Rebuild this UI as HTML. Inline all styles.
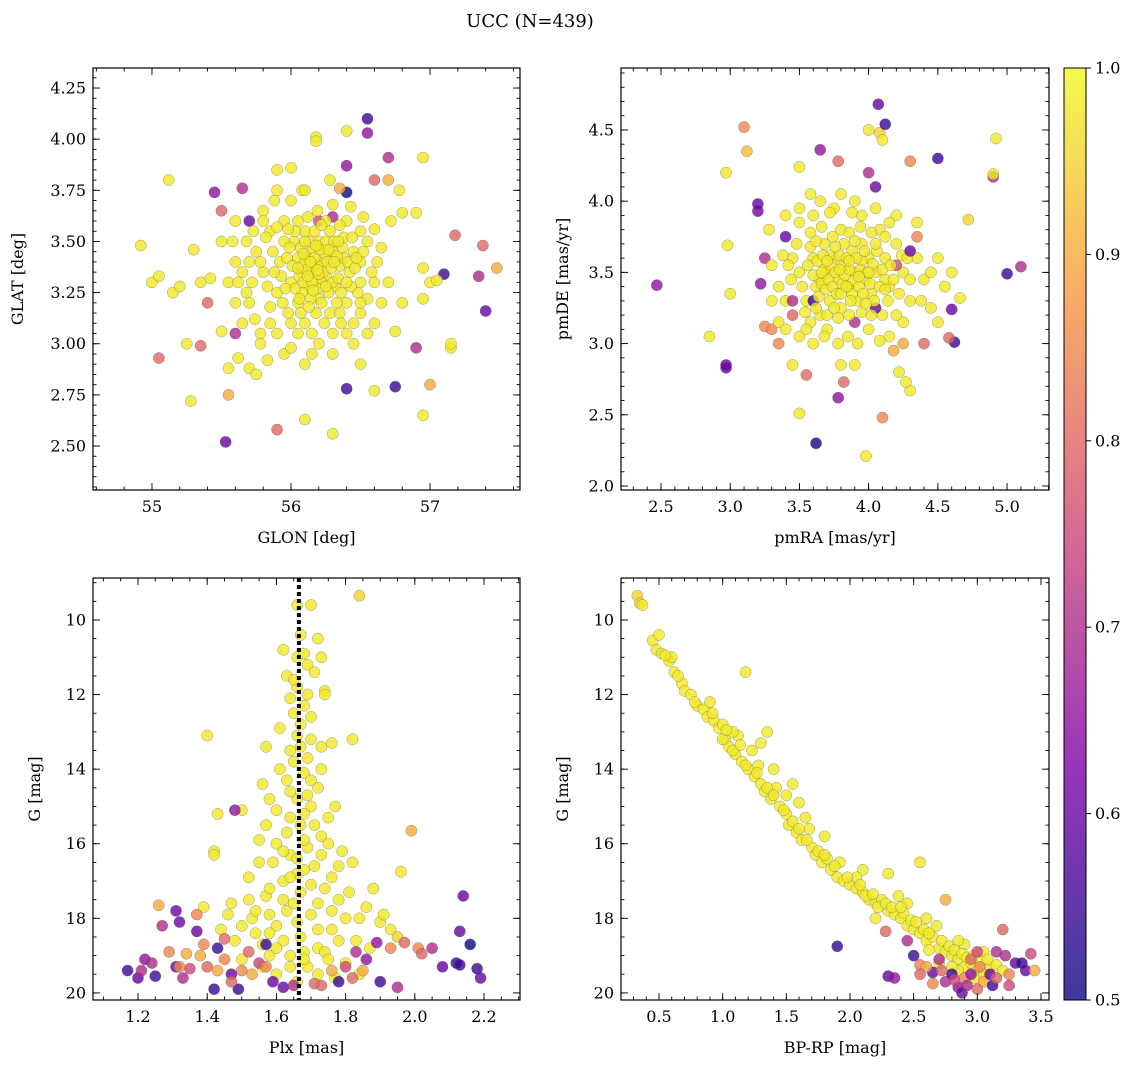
<!DOCTYPE html>
<html><head><meta charset="utf-8"><style>
body{margin:0;background:#fff;}
svg{display:block;font-family:"DejaVu Serif","Liberation Serif",serif;}
</style></head><body>
<svg id="chart" width="1136" height="1067" viewBox="0 0 1136 1067" xmlns="http://www.w3.org/2000/svg">
<defs><linearGradient id="plasma" x1="0" y1="1" x2="0" y2="0">
<stop offset="0" stop-color="#0d0887"/><stop offset="0.25" stop-color="#7e03a8"/><stop offset="0.5" stop-color="#cc4778"/><stop offset="0.75" stop-color="#f89540"/><stop offset="1" stop-color="#f0f921"/></linearGradient></defs>
<text x="530" y="27" font-size="18" text-anchor="middle">UCC (N=439)</text>
</svg>
<script>
// [x, y, probability]
const starsPos=[[56.55,4.10,0.55],[56.55,4.03,0.65],[55.45,3.74,0.65],[56.4,3.87,0.65],[56.7,3.91,0.7],[56.4,3.74,0.5],[55.53,2.52,0.6],[56.4,2.78,0.55],[56.75,2.79,0.55],[57.1,3.34,0.55],[57.4,3.16,0.6],[56.9,2.98,0.7],[55.65,3.76,0.7],[55.6,3.05,0.7],[55.7,3.6,0.6],[55.5,3.65,0.8],[55.9,2.58,0.8],[57.0,2.80,0.9],[55.55,2.75,0.9],[55.05,2.93,0.8],[55.35,2.99,0.8],[57.18,3.53,0.8],[57.38,3.48,0.8],[57.48,3.37,0.9],[57.35,3.33,0.7],[56.6,3.8,0.8],[56.7,3.8,0.9],[55.4,3.2,0.8],[56.35,3.76,0.9],[56.3,3.62,0.7],[56.2,3.6,0.75],
[54.92,3.48,0.98],[55.0,3.3,0.98],[55.05,3.33,0.98],[55.12,3.8,0.98],[55.15,3.25,0.98],[55.2,3.28,0.98],[55.25,3.0,0.98],[55.28,2.72,0.98],[55.3,3.46,0.98],[55.35,3.3,0.98],[55.42,3.32,0.98],[55.5,3.06,0.98],[55.55,2.88,0.98],[55.62,2.93,0.98],[55.7,2.88,0.98],[55.75,2.85,0.98],[55.78,3.05,0.98],[55.68,3.5,0.98],[55.8,3.65,0.98],[55.9,3.85,0.98],[56.0,3.86,0.98],[56.08,3.75,0.98],[56.18,4.01,0.98],[56.18,3.99,0.98],[56.4,4.04,0.98],[56.5,3.55,0.98],[56.52,3.62,0.98],[56.6,3.56,0.98],[56.65,3.47,0.98],[56.72,3.6,0.98],[56.8,3.64,0.98],[56.78,3.75,0.98],[56.9,3.64,0.98],[56.95,3.91,0.98],[56.95,3.37,0.98],[57.0,3.3,0.98],[56.95,3.22,0.98],[57.05,3.31,0.98],[57.15,2.98,0.98],[57.15,3.0,0.98],[56.95,2.65,0.98],[56.75,3.06,0.98],[56.6,2.77,0.98],[56.5,2.9,0.98],[56.3,2.56,0.98],[56.1,2.63,0.98],[56.3,2.95,0.98],[56.1,2.9,0.98],[55.95,2.95,0.98],[55.85,3.1,0.98],[56.15,3.05,0.98],[56.4,3.05,0.98],[56.5,3.15,0.98],[56.45,3.0,0.98],[56.5,3.3,0.98],[56.6,3.3,0.98],
[55.75,3.45,0.98],[55.8,3.35,0.98],[55.85,3.55,0.98],[55.9,3.25,0.98],[55.92,3.4,0.98],[55.95,3.6,0.98],[55.98,3.15,0.98],[56.0,3.3,0.98],[56.02,3.5,0.98],[56.05,3.42,0.98],[56.05,3.2,0.98],[56.08,3.35,0.98],[56.1,3.55,0.98],[56.1,3.1,0.98],[56.12,3.28,0.98],[56.15,3.45,0.98],[56.15,3.38,0.98],[56.18,3.3,0.98],[56.2,3.5,0.98],[56.2,3.22,0.98],[56.22,3.4,0.98],[56.25,3.33,0.98],[56.25,3.6,0.98],[56.28,3.15,0.98],[56.3,3.45,0.98],[56.32,3.28,0.98],[56.35,3.38,0.98],[56.38,3.52,0.98],[56.4,3.2,0.98],[56.42,3.35,0.98],[56.45,3.45,0.98],[56.48,3.25,0.98],[56.5,3.4,0.98],[55.7,3.2,0.98],[55.65,3.35,0.98],[55.6,3.4,0.98],[55.65,3.1,0.98],[55.78,3.0,0.98],[55.88,3.7,0.98],[56.0,3.7,0.98],[56.1,3.75,0.98],[56.3,3.68,0.98],[56.55,3.22,0.98],[56.6,3.1,0.98],[56.3,3.05,0.98],[56.2,3.0,0.98],[55.85,3.18,0.98],[55.95,3.5,0.98],[56.05,3.6,0.98],[56.12,3.62,0.98],[56.18,3.15,0.98],[56.25,3.5,0.98],[56.35,3.15,0.98],[56.4,3.6,0.98],[56.45,3.1,0.98],[55.55,3.3,0.98],[55.6,3.2,0.98],[55.9,3.05,0.98],[56.0,2.98,0.98],[56.15,2.95,0.98],[56.28,3.55,0.98],[56.12,3.42,0.98],[56.08,3.25,0.98],[56.22,3.3,0.98],[56.16,3.35,0.98],[56.06,3.33,0.98],[56.2,3.38,0.98],[56.1,3.4,0.98],[56.24,3.44,0.98],[56.3,3.3,0.98],[55.82,3.52,0.98],[55.72,3.3,0.98],[56.38,3.42,0.98],[56.55,3.5,0.98],[56.62,3.4,0.98],[55.5,3.5,0.98],[55.6,3.6,0.98],[56.7,3.3,0.98],[56.8,3.2,0.98],
[55.78,3.4,0.98],[55.83,3.28,0.98],[55.87,3.45,0.98],[55.93,3.33,0.98],[55.97,3.42,0.98],[56.01,3.38,0.98],[56.03,3.27,0.98],[56.07,3.47,0.98],[56.09,3.3,0.98],[56.11,3.36,0.98],[56.13,3.5,0.98],[56.14,3.22,0.98],[56.17,3.42,0.98],[56.19,3.27,0.98],[56.21,3.46,0.98],[56.23,3.35,0.98],[56.26,3.4,0.98],[56.27,3.25,0.98],[56.29,3.37,0.98],[56.31,3.5,0.98],[56.33,3.43,0.98],[56.34,3.32,0.98],[56.36,3.25,0.98],[56.37,3.47,0.98],[56.41,3.4,0.98],[56.43,3.28,0.98],[56.46,3.37,0.98],[56.52,3.45,0.98],[56.58,3.35,0.98],[56.03,3.55,0.98],[56.17,3.55,0.98],[56.22,3.2,0.98],[56.33,3.2,0.98],[55.94,3.2,0.98],[55.88,3.35,0.98],[56.07,3.15,0.98],[56.24,3.1,0.98],[56.13,3.18,0.98],[55.99,3.47,0.98],[56.19,3.65,0.98],[56.35,3.58,0.98],[55.8,3.6,0.98],[55.73,3.55,0.98],[55.68,3.25,0.98],[55.74,3.12,0.98],[56.44,3.52,0.98],[56.5,3.2,0.98],[56.15,3.3,0.98],[56.12,3.33,0.98],[56.2,3.34,0.98],[56.25,3.28,0.98],[56.05,3.37,0.98],[55.96,3.27,0.98],[56.27,3.46,0.98],[56.09,3.44,0.98],[55.9,3.57,0.98],[56.4,3.3,0.98],[56.47,3.42,0.98],[56.0,3.1,0.98],[56.36,3.1,0.98],[55.83,2.92,0.98],[55.62,3.3,0.98],[56.65,3.2,0.98],[56.55,3.05,0.98],[55.58,3.5,0.98],[55.9,3.75,0.98],[56.28,3.8,0.98],[56.43,3.67,0.98],[56.05,3.05,0.98],[55.7,3.4,0.98],[56.18,3.48,0.98],[56.22,3.58,0.98],[56.34,3.5,0.98],[56.1,3.5,0.98],[56.06,3.22,0.98],[55.98,3.56,0.98],[56.31,3.4,0.98],[56.14,3.4,0.98],[56.19,3.36,0.98],[56.16,3.26,0.98]];
const starsPM=[[2.47,3.41,0.65],[2.85,3.05,0.98],[2.97,2.83,0.6],[2.97,2.85,0.6],[2.97,4.2,0.98],[2.98,3.69,0.98],[3.0,3.35,0.98],[3.1,4.52,0.85],[3.12,4.35,0.92],[3.2,3.93,0.62],[3.2,3.98,0.6],[3.22,3.42,0.65],[3.25,3.6,0.7],[3.4,3.9,0.98],[3.5,4.24,0.98],[3.5,2.51,0.98],[3.58,4.05,0.98],[3.62,2.3,0.5],[3.65,4.36,0.65],[3.78,4.28,0.8],[3.78,2.62,0.65],[3.82,2.73,0.8],[3.8,2.85,0.98],[3.9,2.85,0.98],[3.98,2.21,0.98],[4.0,4.5,0.98],[4.07,4.68,0.6],[4.08,4.48,0.95],[4.12,4.54,0.55],[4.0,4.2,0.7],[4.05,4.1,0.6],[4.1,4.43,0.98],[4.22,2.8,0.98],[4.3,2.67,0.98],[4.27,2.73,0.98],[4.18,2.95,0.9],[4.1,2.48,0.85],[4.3,4.28,0.85],[4.5,4.3,0.55],[4.62,3.01,0.55],[4.58,3.04,0.8],[4.6,3.24,0.6],[4.72,3.87,0.95],[4.66,3.32,0.98],[4.9,4.17,0.7],[4.9,4.19,0.98],[4.92,4.44,0.98],[5.0,3.49,0.55],[5.1,3.54,0.7],[3.25,3.12,0.85],[3.3,3.1,0.85],[3.45,2.85,0.98],[3.55,2.78,0.8],[3.4,3.75,0.6],[3.35,3.4,0.98],
[3.5,3.5,0.98],[3.55,3.3,0.98],[3.6,3.6,0.98],[3.62,3.4,0.98],[3.65,3.2,0.98],[3.68,3.7,0.98],[3.7,3.5,0.98],[3.72,3.3,0.98],[3.75,3.6,0.98],[3.78,3.45,0.98],[3.8,3.8,0.98],[3.8,3.25,0.98],[3.82,3.55,0.98],[3.85,3.4,0.98],[3.88,3.65,0.98],[3.9,3.5,0.98],[3.92,3.3,0.98],[3.95,3.7,0.98],[3.98,3.45,0.98],[4.0,3.6,0.98],[4.02,3.35,0.98],[4.05,3.5,0.98],[4.08,3.8,0.98],[4.1,3.2,0.98],[4.12,3.6,0.98],[4.15,3.4,0.98],[4.2,3.7,0.98],[4.25,3.5,0.98],[4.3,3.3,0.98],[4.35,3.6,0.98],[4.4,3.45,0.98],[4.45,3.25,0.98],[3.45,3.6,0.98],[3.4,3.3,0.98],[3.35,3.15,0.98],[3.5,3.05,0.98],[3.6,3.0,0.98],[3.7,3.1,0.98],[3.85,3.05,0.98],[4.0,3.1,0.98],[4.15,3.05,0.98],[3.6,3.9,0.98],[3.75,3.95,0.98],[3.9,4.0,0.98],[4.05,3.95,0.98],[4.2,3.9,0.98],[3.5,3.85,0.98],[3.3,3.55,0.98],[3.28,3.8,0.98],[4.35,3.85,0.98],[4.5,3.6,0.98],[4.55,3.4,0.98],[3.65,3.45,0.98],[3.72,3.62,0.98],[3.88,3.35,0.98],[3.95,3.58,0.98],[3.68,3.52,0.98],[3.82,3.7,0.98],[4.12,3.45,0.98],[3.58,3.15,0.98],[4.25,3.15,0.98],[4.4,3.0,0.8],[3.45,3.2,0.8],[4.35,3.75,0.85],[3.9,3.15,0.7],[4.05,3.25,0.6],[3.6,3.3,0.55],[4.2,3.55,0.75],
[3.52,3.4,0.98],[3.56,3.55,0.98],[3.58,3.68,0.98],[3.6,3.48,0.98],[3.63,3.58,0.98],[3.64,3.33,0.98],[3.66,3.42,0.98],[3.67,3.62,0.98],[3.69,3.38,0.98],[3.71,3.45,0.98],[3.73,3.55,0.98],[3.74,3.4,0.98],[3.76,3.5,0.98],[3.77,3.35,0.98],[3.79,3.62,0.98],[3.81,3.42,0.98],[3.83,3.48,0.98],[3.84,3.6,0.98],[3.86,3.52,0.98],[3.87,3.3,0.98],[3.89,3.44,0.98],[3.91,3.6,0.98],[3.93,3.4,0.98],[3.94,3.52,0.98],[3.96,3.35,0.98],[3.97,3.65,0.98],[3.99,3.5,0.98],[4.01,3.42,0.98],[4.03,3.56,0.98],[4.04,3.3,0.98],[4.06,3.65,0.98],[4.08,3.4,0.98],[4.1,3.52,0.98],[4.14,3.3,0.98],[4.16,3.55,0.98],[4.18,3.45,0.98],[4.22,3.35,0.98],[4.24,3.62,0.98],[3.54,3.22,0.98],[3.62,3.25,0.98],[3.7,3.2,0.98],[3.78,3.18,0.98],[3.86,3.2,0.98],[3.95,3.22,0.98],[4.02,3.2,0.98],[3.58,3.78,0.98],[3.66,3.82,0.98],[3.74,3.75,0.98],[3.86,3.78,0.98],[3.94,3.82,0.98],[4.02,3.78,0.98],[4.12,3.75,0.98],[3.48,3.7,0.98],[3.44,3.45,0.98],[3.42,3.55,0.98],[3.38,3.62,0.98],[4.3,3.45,0.98],[4.28,3.6,0.98],[4.38,3.3,0.98],[4.45,3.5,0.98],[3.5,3.95,0.98],[3.65,4.0,0.98],[3.8,4.05,0.98],[3.95,3.9,0.98],[4.15,3.85,0.98],[3.68,3.05,0.98],[3.78,3.0,0.98],[3.92,3.0,0.98],[4.08,3.02,0.98],[3.55,3.1,0.98],[4.2,3.2,0.98],[3.4,3.1,0.98],[3.3,3.3,0.98],[4.5,3.15,0.98],[4.6,3.5,0.98],[3.72,3.92,0.98],[3.88,3.92,0.98],[4.05,3.7,0.98],[3.62,3.72,0.98],[3.76,3.68,0.98],[3.9,3.72,0.98],[3.8,3.35,0.98],[3.75,3.25,0.98],[3.98,3.28,0.98],[4.12,3.38,0.98],[3.66,3.5,0.98],[3.84,3.4,0.98],[4.0,3.5,0.98],[3.7,3.58,0.98],[3.93,3.47,0.98],[3.86,3.58,0.98],[3.79,3.52,0.98],[3.45,3.3,0.7],[4.3,3.65,0.6],[3.35,3.0,0.85],[4.25,3.0,0.9]];
const starsPlx=[[1.66,9.6,0.98],[1.70,9.6,0.98],[1.84,9.35,0.95],[1.67,10.4,0.98],[1.72,10.5,0.98],[1.62,10.8,0.98],[1.66,11.0,0.98],[1.69,11.2,0.98],[1.63,11.5,0.98],[1.71,11.4,0.98],[1.74,11.9,0.98],[1.66,11.8,0.98],[1.64,12.1,0.98],[1.68,12.3,0.98],[1.7,12.6,0.98],[1.61,12.9,0.98],[1.66,13.1,0.98],[1.73,13.4,0.98],[1.64,13.5,0.98],[1.69,13.7,0.98],[1.57,13.4,0.98],[1.68,14.1,0.98],[1.63,14.3,0.98],[1.72,14.5,0.98],[1.56,14.4,0.98],[1.66,14.8,0.98],[1.7,15.0,0.98],[1.6,15.1,0.98],[1.75,15.3,0.98],[1.5,15.1,0.98],[1.67,15.5,0.98],[1.63,15.7,0.98],[1.73,15.8,0.98],[1.55,15.9,0.98],[1.69,16.1,0.98],[1.64,16.3,0.98],[1.79,16.2,0.98],[1.59,16.5,0.98],[1.71,16.6,0.98],[1.66,16.8,0.98],[1.82,16.5,0.98],[1.52,16.9,0.98],[1.62,17.0,0.98],[1.74,17.2,0.98],[1.67,17.3,0.98],[1.57,17.4,0.98],[1.78,17.5,0.98],[1.47,17.6,0.98],[1.86,17.7,0.98],[1.63,17.8,0.98],[1.7,17.9,0.98],[1.53,18.0,0.98],[1.9,18.1,0.98],[1.6,18.2,0.98],[1.76,18.3,0.98],[1.44,18.3,0.98],[1.67,18.5,0.98],[1.83,18.6,0.98],[1.56,18.7,0.98],[1.72,18.8,0.98],[1.64,19.0,0.98],[1.5,19.1,0.98],[1.8,19.2,0.98],[1.69,19.3,0.98],[1.6,19.5,0.98],[1.77,19.6,0.98],[1.4,13.1,0.98],[1.43,15.2,0.98],[1.42,16.2,0.98],[1.42,16.3,0.98],[1.82,13.2,0.98],[1.76,13.3,0.98],[1.99,15.65,0.9],[1.96,16.75,0.98],[1.73,11.0,0.98],[1.74,12.0,0.98],[1.65,12.5,0.98],[1.69,14.7,0.98],[1.58,14.8,0.98],[1.6,16.0,0.98],[1.75,16.0,0.98],[1.68,15.2,0.98],[1.66,16.4,0.98],[1.54,17.8,0.98],[1.88,17.2,0.98],[1.8,18.0,0.98],[1.48,18.6,0.98],[1.58,18.4,0.98],[1.74,18.9,0.98],[1.93,18.3,0.98],[1.62,17.5,0.98],[1.72,17.6,0.98],
[1.68,10.9,0.98],[1.65,11.6,0.98],[1.69,12.0,0.98],[1.67,12.8,0.98],[1.7,13.2,0.98],[1.65,13.8,0.98],[1.7,14.3,0.98],[1.64,14.6,0.98],[1.71,15.5,0.98],[1.64,15.3,0.98],[1.68,15.9,0.98],[1.62,16.2,0.98],[1.73,16.3,0.98],[1.68,16.7,0.98],[1.64,16.9,0.98],[1.76,16.9,0.98],[1.58,17.2,0.98],[1.7,17.1,0.98],[1.65,17.6,0.98],[1.81,17.3,0.98],[1.52,17.5,0.98],[1.76,17.8,0.98],[1.58,17.9,0.98],[1.84,18.0,0.98],[1.66,18.1,0.98],[1.5,18.2,0.98],[1.72,18.3,0.98],[1.62,18.6,0.98],[1.78,18.6,0.98],[1.54,18.4,0.98],[1.68,18.9,0.98],[1.87,18.8,0.98],[1.58,19.0,0.98],[1.75,19.1,0.98],[1.64,19.3,0.98],[1.84,19.5,0.98],[1.56,19.3,0.98],[1.72,19.5,0.98],[1.66,19.7,0.98],[1.95,18.5,0.95],[1.91,17.9,0.98],[1.46,17.9,0.98],[1.39,17.7,0.98],[1.77,15.0,0.98],[1.57,15.5,0.98],[1.61,14.0,0.98],[1.73,14.0,0.98],[1.67,13.4,0.98],[1.68,19.1,0.98],[1.6,18.8,0.98],[1.78,16.6,0.98],[1.55,16.5,0.98],
[1.17,19.4,0.55],[1.2,19.6,0.6],[1.22,19.1,0.65],[1.24,19.2,0.7],[1.26,17.65,0.9],[1.27,18.2,0.7],[1.29,18.9,0.85],[1.31,17.8,0.6],[1.32,18.1,0.6],[1.31,19.3,0.6],[1.33,19.6,0.7],[1.35,19.35,0.75],[1.37,18.35,0.6],[1.37,17.9,0.85],[1.39,18.7,0.85],[1.4,19.3,0.8],[1.42,19.9,0.55],[1.43,18.8,0.55],[1.45,18.55,0.8],[1.48,15.1,0.65],[1.47,19.5,0.6],[1.49,19.9,0.55],[1.5,19.4,0.85],[1.52,18.9,0.8],[1.55,19.2,0.75],[1.57,18.7,0.55],[1.59,19.7,0.6],[1.62,19.85,0.6],[1.65,19.8,0.7],[1.71,19.75,0.8],[1.78,19.7,0.55],[1.8,19.3,0.75],[1.83,18.9,0.7],[1.86,19.1,0.65],[1.89,18.65,0.65],[1.9,19.7,0.55],[1.95,19.85,0.7],[1.97,18.65,0.8],[2.01,18.8,0.85],[2.02,18.95,0.8],[2.05,18.8,0.7],[2.08,19.3,0.6],[2.12,19.2,0.55],[2.13,18.35,0.6],[2.14,17.4,0.6],[2.16,18.7,0.5],[2.18,19.35,0.55],[2.19,19.6,0.6],[2.13,19.25,0.55],[1.25,19.55,0.55],[1.21,19.4,0.7],[1.45,19.1,0.85],[1.34,18.95,0.9],[1.73,19.8,0.8],[1.85,19.4,0.9],[1.93,18.8,0.85],[1.43,19.4,0.9],[1.47,19.7,0.8],[1.53,19.5,0.9],[1.57,19.3,0.85],[1.76,19.4,0.9],[1.82,19.6,0.8],[1.32,19.3,0.85],[1.38,19.0,0.9]];
const starsCMD=[[0.33,9.35,0.95],[0.35,9.55,0.95],[0.37,9.6,0.98],[0.45,10.55,0.98],[0.5,10.4,0.98],[0.48,10.8,0.98],[0.52,10.9,0.98],[0.58,11.1,0.98],[0.62,11.4,0.98],[0.68,11.7,0.98],[0.7,11.9,0.98],[0.75,12.0,0.98],[0.8,12.3,0.98],[0.85,12.4,0.98],[0.88,12.6,0.98],[0.93,12.7,0.98],[0.97,12.9,0.98],[1.0,12.8,0.98],[1.02,13.2,0.98],[1.05,13.4,0.98],[1.1,13.6,0.98],[1.12,13.1,0.98],[1.15,13.8,0.98],[1.18,11.4,0.98],[1.2,14.0,0.98],[1.23,13.5,0.98],[1.25,14.2,0.98],[1.3,14.4,0.98],[1.33,14.6,0.98],[1.35,13.0,0.98],[1.38,14.8,0.98],[1.4,14.0,0.98],[1.45,15.0,0.98],[1.5,15.2,0.98],[1.52,15.5,0.98],[1.55,14.4,0.98],[1.58,15.7,0.98],[1.62,15.9,0.98],[1.65,15.3,0.98],[1.7,16.1,0.98],[1.73,16.3,0.98],[1.78,16.5,0.98],[1.82,16.4,0.98],[1.85,16.7,0.98],[1.9,16.9,0.98],[1.95,17.0,0.98],[2.0,17.1,0.98],[2.05,17.2,0.98],[2.1,17.3,0.98],[2.15,17.5,0.98],[2.2,17.6,0.98],[2.25,17.5,0.98],[2.3,17.8,0.98],[2.35,17.9,0.98],[2.4,18.0,0.98],[2.45,18.2,0.98],[2.5,18.3,0.98],[2.55,16.5,0.98],[2.55,18.4,0.98],[2.6,18.6,0.98],[2.65,18.5,0.98],[2.7,18.8,0.98],[2.75,17.5,0.9],[2.75,18.9,0.98],[2.8,19.0,0.98],[2.85,19.1,0.98],[2.9,19.3,0.98],[2.95,19.2,0.98],[3.0,19.4,0.98],[3.1,19.3,0.98],[0.9,12.2,0.98],[0.6,11.0,0.98],[1.0,13.2,0.98],[1.3,13.3,0.98],[1.5,14.7,0.98],[1.6,14.9,0.98],[1.8,15.8,0.98],[2.1,16.7,0.98],[2.3,16.8,0.98],[2.2,18.0,0.98],[2.6,18.0,0.98],[2.45,17.6,0.98],[2.9,18.7,0.98],[3.05,18.9,0.98],[1.08,13.0,0.98],[1.28,13.9,0.98],[1.42,14.5,0.98],[1.68,15.6,0.98],[1.92,16.5,0.98],[2.05,16.9,0.98],[2.38,17.4,0.98],[2.68,18.2,0.98],[2.85,18.6,0.98],
[0.55,10.95,0.98],[0.65,11.5,0.98],[0.78,12.2,0.98],[0.92,12.5,0.98],[1.03,12.95,0.98],[1.08,13.5,0.98],[1.14,13.35,0.98],[1.18,13.9,0.98],[1.27,14.1,0.98],[1.35,14.5,0.98],[1.4,14.7,0.98],[1.48,15.1,0.98],[1.55,15.4,0.98],[1.6,15.6,0.98],[1.66,15.9,0.98],[1.75,16.2,0.98],[1.8,16.3,0.98],[1.88,16.6,0.98],[1.98,16.9,0.98],[2.08,17.1,0.98],[2.12,17.4,0.98],[2.18,17.35,0.98],[2.22,17.7,0.98],[2.28,17.6,0.98],[2.33,17.7,0.98],[2.42,17.85,0.98],[2.48,18.05,0.98],[2.52,18.1,0.98],[2.58,18.3,0.98],[2.62,18.4,0.98],[2.72,18.6,0.98],[2.78,18.75,0.98],[2.82,18.85,0.98],[2.88,18.95,0.98],[2.92,19.05,0.98],[2.97,19.0,0.98],[3.02,19.15,0.98],[3.08,19.1,0.98],[3.15,19.25,0.98],[3.2,19.4,0.98],[2.98,19.6,0.98],[2.85,19.4,0.98],[2.7,19.2,0.98],[2.8,19.3,0.98],[3.05,19.5,0.98],[2.4,17.7,0.98],[2.62,18.85,0.98],
[1.9,18.75,0.55],[2.28,18.35,0.8],[2.3,19.55,0.6],[2.35,19.6,0.65],[2.45,18.6,0.7],[2.55,19.25,0.85],[2.65,19.45,0.6],[2.75,19.7,0.7],[2.8,19.5,0.55],[2.85,19.85,0.65],[2.9,19.6,0.85],[2.95,19.1,0.8],[3.0,18.9,0.75],[3.05,19.7,0.9],[3.1,19.5,0.6],[3.12,19.8,0.55],[3.15,18.9,0.7],[3.2,18.3,0.8],[3.22,19.0,0.7],[3.25,19.5,0.85],[3.3,19.2,0.6],[3.38,19.4,0.6],[3.42,18.95,0.75],[3.45,19.4,0.9],[3.35,19.2,0.55],[2.7,19.1,0.7],[2.6,19.3,0.9],[2.88,20.0,0.6],[3.0,19.9,0.8],[2.5,19.0,0.55],[2.95,19.5,0.65],[2.72,19.4,0.8],[2.82,19.65,0.75],[2.92,19.8,0.7],[3.02,19.3,0.85],[3.15,19.6,0.8],[2.65,19.75,0.85],[2.55,19.5,0.8],[3.25,19.8,0.75]];
const ticksPosX=[55,56,57], ticksPosY=[2.50,2.75,3.00,3.25,3.50,3.75,4.00,4.25];
const ticksPmX=[2.5,3.0,3.5,4.0,4.5,5.0], ticksPmY=[2.0,2.5,3.0,3.5,4.0,4.5];
const ticksPlxX=[1.2,1.4,1.6,1.8,2.0,2.2], ticksMagY=[10,12,14,16,18,20];
const ticksColX=[0.5,1.0,1.5,2.0,2.5,3.0,3.5];
const cbarTicks=[0.5,0.6,0.7,0.8,0.9,1.0];
const plxMedian=1.665;

const NS="http://www.w3.org/2000/svg";
const svg=document.getElementById('chart');
function mk(tag,attrs,parent){const e=document.createElementNS(NS,tag);for(const k in attrs)e.setAttribute(k,attrs[k]);(parent||svg).appendChild(e);return e;}
const stops=[[13,8,135],[126,3,168],[204,71,120],[248,149,64],[240,249,33]];
function plasma(p){let t=Math.max(0,Math.min(1,(p-0.5)/0.5))*4;let i=Math.min(3,Math.floor(t)),f=t-i;const a=stops[i],b=stops[i+1];return 'rgb('+a.map((v,k)=>Math.round(v+(b[k]-v)*f)).join(',')+')';}
function fmt(v,d){return v.toFixed(d);}
function panel(cfg){
 const [L,T,R,B]=cfg.box;
 const sx=v=>L+(v-cfg.xd[0])/(cfg.xd[1]-cfg.xd[0])*(R-L);
 const sy=cfg.inv?(v=>T+(v-cfg.yd[0])/(cfg.yd[1]-cfg.yd[0])*(B-T)):(v=>B-(v-cfg.yd[0])/(cfg.yd[1]-cfg.yd[0])*(B-T));
 const g=mk('g',{});
 
 
 const pts=mk('g',{},g);
 cfg.data.forEach(d=>{const c=mk('circle',{cx:sx(d[0]),cy:sy(d[1]),r:5.6,fill:plasma(d[2]),'fill-opacity':0.8,stroke:'#555','stroke-width':0.4,'stroke-opacity':0.7},pts);
  
  });
 if(cfg.vline!==undefined){const l=mk('line',{x1:sx(cfg.vline),x2:sx(cfg.vline),y1:T,y2:B,stroke:'#000','stroke-width':4,'stroke-dasharray':'4,3'},g);
  
  }
 mk('rect',{x:L,y:T,width:R-L,height:B-T,fill:'none',stroke:'#000','stroke-width':1.2},g);
 const tk=mk('g',{stroke:'#000','stroke-width':0.9},g);
 const minor=(lo,hi,st,f)=>{for(let v=Math.ceil(lo/st-1e-9)*st;v<=hi+1e-9;v+=st)f(v);};
 minor(cfg.xd[0],cfg.xd[1],cfg.xm,v=>{const x=sx(v);mk('line',{x1:x,x2:x,y1:B,y2:B-3.5},tk);mk('line',{x1:x,x2:x,y1:T,y2:T+3.5},tk);});
 minor(Math.min(...cfg.yd),Math.max(...cfg.yd),cfg.ym,v=>{const y=sy(v);mk('line',{x1:L,x2:L+3.5,y1:y,y2:y},tk);mk('line',{x1:R,x2:R-3.5,y1:y,y2:y},tk);});
 cfg.xt.forEach(v=>{const x=sx(v);mk('line',{x1:x,x2:x,y1:B,y2:B-7},tk);mk('line',{x1:x,x2:x,y1:T,y2:T+7},tk);
  const t=mk('text',{x:x,y:B+22,'font-size':16,'text-anchor':'middle'},g);t.textContent=fmt(v,cfg.xdp);
  
  });
 cfg.yt.forEach(v=>{const y=sy(v);mk('line',{x1:L,x2:L+7,y1:y,y2:y},tk);mk('line',{x1:R,x2:R-7,y1:y,y2:y},tk);
  const t=mk('text',{x:L-7,y:y+5.5,'font-size':16,'text-anchor':'end'},g);t.textContent=fmt(v,cfg.ydp);
  
  });
 const xl=mk('text',{x:(L+R)/2,y:B+53,'font-size':16,'text-anchor':'middle'},g);xl.textContent=cfg.xl;
 
 
 const yx=cfg.ylx,yy=(T+B)/2;
 const yl=mk('text',{x:yx,y:yy,'font-size':16,'text-anchor':'middle',transform:'rotate(-90 '+yx+' '+yy+')'},g);yl.textContent=cfg.yl;
 
 
}
panel({name:'panel-glon-glat',box:[93,68,520,490],xd:[54.576,57.647],yd:[2.285,4.348],xt:ticksPosX,yt:ticksPosY,xm:0.2,ym:0.05,xdp:0,ydp:2,xl:'GLON [deg]',yl:'GLAT [deg]',ylx:23,data:starsPos});
panel({name:'panel-proper-motion',box:[621,68,1049,490],xd:[2.211,5.303],yd:[1.972,4.935],xt:ticksPmX,yt:ticksPmY,xm:0.1,ym:0.1,xdp:1,ydp:1,xl:'pmRA [mas/yr]',yl:'pmDE [mas/yr]',ylx:568,data:starsPM});
panel({name:'panel-parallax-mag',box:[93,578,520,1000],xd:[1.070,2.304],yd:[8.874,20.19],inv:true,xt:ticksPlxX,yt:ticksMagY,xm:0.05,ym:0.5,xdp:1,ydp:0,xl:'Plx [mas]',yl:'G [mag]',ylx:40,data:starsPlx,vline:plxMedian});
panel({name:'panel-cmd',box:[621,578,1049,1000],xd:[0.2015,3.563],yd:[8.874,20.19],inv:true,xt:ticksColX,yt:ticksMagY,xm:0.1,ym:0.5,xdp:1,ydp:0,xl:'BP-RP [mag]',yl:'G [mag]',ylx:568,data:starsCMD});
// colorbar
const cb=mk('g',{});


mk('rect',{x:1064,y:68,width:22,height:932,fill:'url(#plasma)','fill-opacity':0.8,stroke:'#000','stroke-width':1},cb);
cbarTicks.forEach(v=>{const y=1000-(v-0.5)/0.5*932;mk('line',{x1:1086,x2:1091,y1:y,y2:y,stroke:'#000'},cb);
 const t=mk('text',{x:1095,y:y+5.5,'font-size':16},cb);t.textContent=v.toFixed(1);
 
 });
</script>
</body></html>
